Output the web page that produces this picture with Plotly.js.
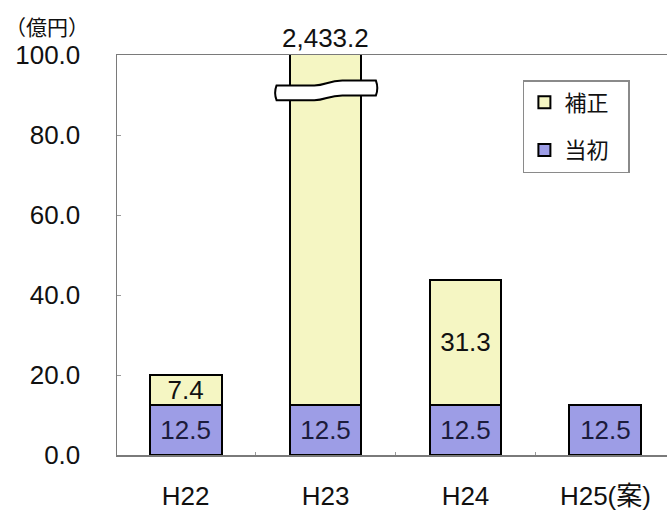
<!DOCTYPE html>
<html><head><meta charset="utf-8">
<script src="https://cdn.plot.ly/plotly-3.0.1.min.js"></script>
<style>html,body{margin:0;padding:0;background:#fff;}</style>
</head><body>
<div id="chart" style="width:667px;height:510px;"></div>
<script>
const categories = ["H22", "H23", "H24", "H25(案)"];
const initialValues = [12.5, 12.5, 12.5, 12.5];           // 当初
const supplementaryValues = [7.4, 2433.2, 31.3, null];     // 補正
const yTickVals = [0, 20, 40, 60, 80, 100];
const yMax = 100;

const FONT = '"Liberation Sans", Arial, "Noto Sans CJK JP", sans-serif';
const CJK = '"Noto Sans CJK JP", "Liberation Sans", sans-serif';
const fmt = v => v.toLocaleString('en-US', {minimumFractionDigits: 1, maximumFractionDigits: 1});

const traceInitial = {
  type: 'bar', name: '当初\u00a0\u00a0\u00a0', x: categories, y: initialValues,
  text: initialValues.map(fmt), textposition: 'inside', insidetextanchor: 'middle',
  constraintext: 'none',
  textfont: {family: FONT, size: 26, color: '#1c1c3c'},
  marker: {color: '#9d9de6', line: {color: '#000', width: 2}},
  legendgroup: 'a', legendrank: 2, hoverinfo: 'none'
};
const traceSupp = {
  type: 'bar', name: '補正\u00a0\u00a0\u00a0', x: categories, y: supplementaryValues,
  text: supplementaryValues.map(v => (v == null || v > yMax) ? '' : fmt(v)),
  textposition: 'inside', insidetextanchor: 'middle', constraintext: 'none',
  textfont: {family: FONT, size: 26, color: '#111'},
  marker: {color: '#f5f6c3', line: {color: '#000', width: 2}},
  legendgroup: 'b', legendrank: 1, hoverinfo: 'none'
};

const annotations = [];
supplementaryValues.forEach((v, i) => {
  if (v != null && v > yMax) {
    annotations.push({x: categories[i], y: yMax, xref: 'x', yref: 'y', yanchor: 'bottom',
      text: fmt(v), showarrow: false, yshift: 0, font: {family: FONT, size: 26, color: '#111'}});
  }
});
annotations.push({x: 0, y: 1, xref: 'paper', yref: 'paper', xanchor: 'left', yanchor: 'bottom',
  xshift: -114, yshift: 12, text: '（億円）', showarrow: false,
  font: {family: CJK, size: 21, color: '#111'}});

const layout = {
  width: 667, height: 510,
  margin: {l: 117, r: 0, t: 55, b: 55},
  paper_bgcolor: '#fff', plot_bgcolor: '#fff',
  barmode: 'stack', bargap: 0.486,
  font: {family: FONT, color: '#111'},
  xaxis: {
    type: 'category', range: [-0.49, 3.44],
    showline: true, linecolor: '#7a7a7a', linewidth: 1.5, mirror: true,
    ticks: 'inside', ticklen: 3, tickcolor: '#999', tickson: 'boundaries',
    ticklabelstandoff: 17,
    tickfont: {family: FONT, size: 26, color: '#111'},
    showgrid: false, zeroline: false, fixedrange: true
  },
  yaxis: {
    range: [0, yMax], tickvals: yTickVals, tickformat: '.1f',
    showline: true, linecolor: '#7a7a7a', linewidth: 1.5,
    ticks: 'inside', ticklen: 4, tickcolor: '#999',
    tickfont: {family: FONT, size: 26, color: '#111'},
    ticklabelstandoff: 30,
    showgrid: false, zeroline: false, fixedrange: true
  },
  legend: {
    x: 0.738, y: 0.9375, xanchor: 'left', yanchor: 'top',
    bordercolor: '#8a8a8a', borderwidth: 1.5, bgcolor: '#fff',
    traceorder: 'grouped', tracegroupgap: 16,
    font: {family: CJK, size: 22, color: '#111'},
    itemwidth: 30
  },
  showlegend: true,
  annotations: annotations,
  shapes: [{
    type: 'path', xref: 'x', yref: 'y', layer: 'above',
    path: 'M0.65,92.4 L0.92,92.4 C1.0,92.4 1.02,93.6 1.12,93.6 L1.36,93.6 Q1.38,91.75 1.36,89.9 L1.12,89.9 C1.02,89.9 1.0,88.7 0.92,88.7 L0.65,88.7 Q0.63,90.55 0.65,92.4 Z',
    fillcolor: '#fff', line: {color: '#000', width: 2}
  }]
};

Plotly.newPlot('chart', [traceInitial, traceSupp], layout, {displayModeBar: false, staticPlot: true});
</script>
</body></html>
